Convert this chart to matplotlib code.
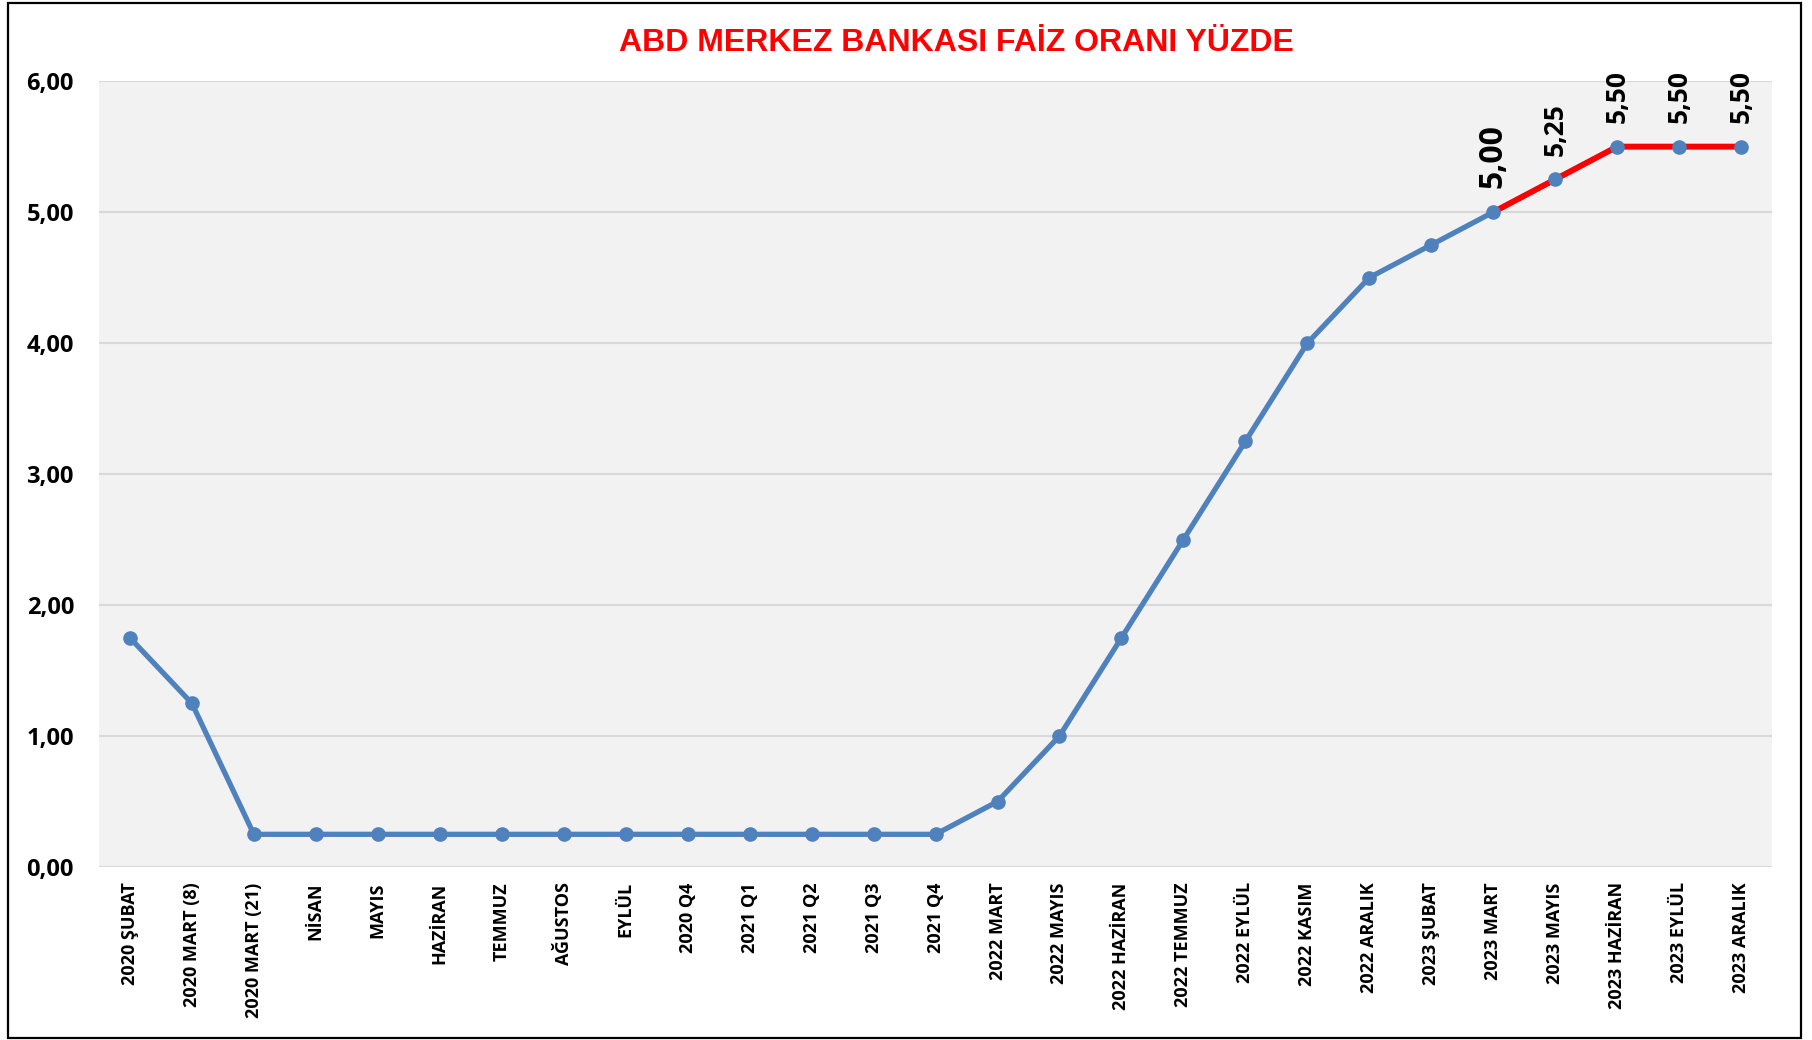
import matplotlib.pyplot as plt
from matplotlib.patches import Rectangle
from matplotlib.ticker import FuncFormatter

# data
periods = ['2020 ŞUBAT', '2020 MART (8)', '2020 MART (21)', 'NİSAN', 'MAYIS',
           'HAZİRAN', 'TEMMUZ', 'AĞUSTOS', 'EYLÜL', '2020 Q4', '2021 Q1',
           '2021 Q2', '2021 Q3', '2021 Q4', '2022 MART', '2022 MAYIS',
           '2022 HAZİRAN', '2022 TEMMUZ', '2022 EYLÜL', '2022 KASIM',
           '2022 ARALIK', '2023 ŞUBAT', '2023 MART', '2023 MAYIS',
           '2023 HAZİRAN', '2023 EYLÜL', '2023 ARALIK']
rates = [1.75, 1.25, 0.25, 0.25, 0.25, 0.25, 0.25, 0.25, 0.25, 0.25, 0.25,
         0.25, 0.25, 0.25, 0.50, 1.00, 1.75, 2.50, 3.25, 4.00, 4.50, 4.75,
         5.00, 5.25, 5.50, 5.50, 5.50]
red_from = 22  # 2023 MART onwards drawn in red and labelled

BLUE = '#4F81BD'
RED = '#FF0000'


def tr_num(v, pos=None):
    return f'{v:.2f}'.replace('.', ',')


fig = plt.figure(figsize=(18.12, 10.40), dpi=100)
ax = fig.add_axes([0.0546, 0.1663, 0.9234, 0.7557])

x = list(range(len(periods)))
ax.plot(x, rates, color=BLUE, lw=3.8, zorder=3)
ax.plot(x[red_from:], rates[red_from:], color=RED, lw=4.2, zorder=4)
ax.plot(x, rates, ls='none', marker='o', ms=9.5, color=BLUE, zorder=5)

# value labels on the last points
for i in range(red_from, len(periods)):
    size = 23 if i == red_from else 19
    ax.annotate(tr_num(rates[i]), (x[i], rates[i]), xytext=(0, 17),
                textcoords='offset points', rotation=90, ha='center',
                va='bottom', fontsize=size, fontweight='bold',
                family='Open Sans', color='black', zorder=6)

ax.set_xlim(-0.5, len(periods) - 0.5)
ax.set_ylim(0, 6)
ax.set_yticks(range(0, 7))
ax.yaxis.set_major_formatter(FuncFormatter(tr_num))
ax.set_xticks(x)
ax.set_xticklabels(periods, rotation=90, fontsize=13, fontweight='bold',
                   family='Open Sans', va='top')
for lab in ax.get_yticklabels():
    lab.set_fontfamily('Open Sans')
    lab.set_fontweight('bold')
    lab.set_fontsize(17)
ax.tick_params(axis='y', length=0, pad=18)
ax.tick_params(axis='x', length=0, pad=11)

ax.set_facecolor('#F2F2F2')
ax.grid(axis='y', color='#D9D9D9', lw=1.5, zorder=0)
ax.set_axisbelow(True)
for s in ax.spines.values():
    s.set_visible(False)

fig.text(0.528, 0.959, 'ABD MERKEZ BANKASI FAİZ ORANI YÜZDE', ha='center',
         va='center', fontsize=23, fontweight='bold', color=RED,
         family='Liberation Sans')

# black frame round the whole chart
fig.patches.append(Rectangle((0.0044, 0.002), 0.9893, 0.995,
                             transform=fig.transFigure, fill=False,
                             edgecolor='black', lw=1.6))

fig.savefig('out.png', dpi=100)
